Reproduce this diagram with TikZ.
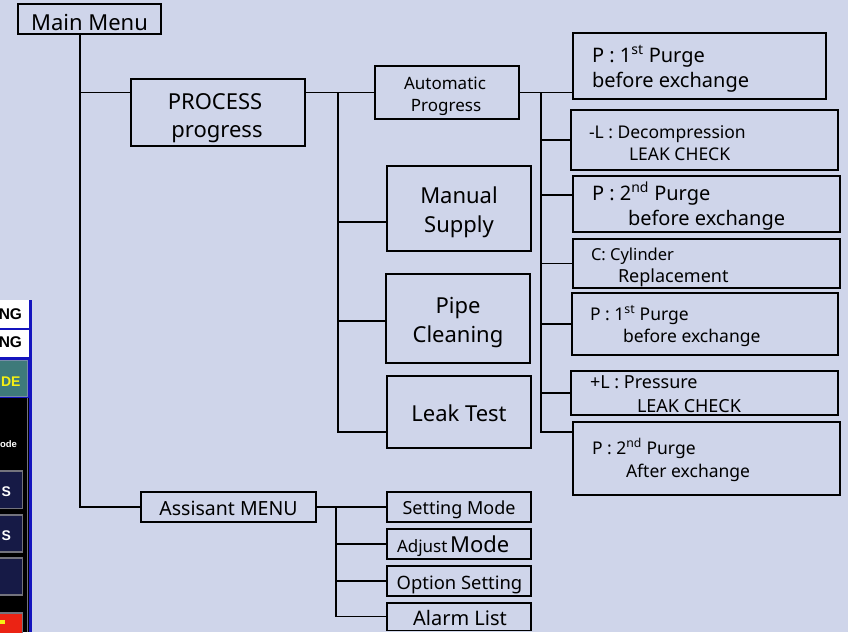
\documentclass[tikz,border=0pt]{standalone}
\usepackage{fontspec}
\setmainfont{Noto Sans}
\newfontfamily\panelfont{Liberation Sans}
\usetikzlibrary{calc}
\definecolor{bg}{RGB}{207,213,234}
\definecolor{panelblue}{RGB}{20,20,190}
\definecolor{panelteal}{RGB}{62,122,122}
\definecolor{tealedge}{RGB}{120,140,170}
\definecolor{btnfill}{RGB}{22,26,70}
\definecolor{btnedge}{RGB}{115,115,125}
\definecolor{btnred}{RGB}{235,35,20}
\definecolor{pyellow}{RGB}{245,240,20}
\newcommand{\fs}[2]{\fontsize{#1}{#2}\selectfont}
\begin{document}
\begin{tikzpicture}[x=1pt,y=-1pt,
  box/.style={draw=black, line width=1.4pt, rectangle, inner sep=0pt, outer sep=0pt, anchor=north west},
  conn/.style={draw=black, line width=1.4pt},
  tl/.style={inner sep=0pt, outer sep=0pt, anchor=base west, text=black},
  tc/.style={inner sep=0pt, outer sep=0pt, anchor=base, text=black},
  pt/.style={inner sep=0pt, outer sep=0pt, anchor=base east, font=\panelfont\bfseries}]
\useasboundingbox (0,0) rectangle (848,632);
\fill[bg] (0,0) rectangle (848,632);

% ---- partial screenshot panel at left edge ----
\begin{scope}
\clip (0,300) rectangle (33,632);
\fill[panelblue] (0,300) rectangle (32,632);
\fill[white] (0,300) rectangle (29,327.5);
\fill[white] (0,329.5) rectangle (29,357);
\fill[panelteal, draw=tealedge, line width=1pt] (-2,360) rectangle (27.5,396);
\fill[black] (0,398) rectangle (28.5,632);
\draw[btnedge, line width=1pt] (27.5,398) -- (27.5,632);
\fill[btnfill, draw=btnedge, line width=1.2pt] (-3,471) rectangle (22.5,508.5);
\fill[btnfill, draw=btnedge, line width=1.2pt] (-3,515) rectangle (22.5,552);
\fill[btnfill, draw=btnedge, line width=1.2pt] (-3,558) rectangle (22.5,595);
\fill[btnred, draw=btnedge, line width=1.2pt] (-3,613) rectangle (22.5,640);
\fill[pyellow] (0,620) rectangle (5,624);
\node[pt, font=\panelfont\bfseries\fs{15.5}{18}] (pg1) at (22,319) {NG};
\node[pt, font=\panelfont\bfseries\fs{15.5}{18}] (pg2) at (22,347) {NG};
\node[pt, font=\panelfont\bfseries\fs{14}{17}, text=pyellow] (pde) at (20.5,386) {DE};
\node[pt, font=\panelfont\bfseries\fs{9.5}{11}, text=white] (pode) at (17,447) {ode};
\node[pt, font=\panelfont\bfseries\fs{14}{17}, text=white] (ps1) at (11,496) {S};
\node[pt, font=\panelfont\bfseries\fs{14}{17}, text=white] (ps2) at (11,540) {S};
\end{scope}

% ---- boxes ----
\node[box, minimum width=143pt, minimum height=30pt] (mm) at (18,4) {};
\node[box, minimum width=174pt, minimum height=67pt] (proc) at (131,79) {};
\node[box, minimum width=144pt, minimum height=53pt] (auto) at (375,66) {};
\node[box, minimum width=144pt, minimum height=85pt] (manual) at (387,166) {};
\node[box, minimum width=144pt, minimum height=89pt] (pipe) at (386,274) {};
\node[box, minimum width=144pt, minimum height=72pt] (leak) at (387,376) {};
\node[box, minimum width=253pt, minimum height=66pt] (p1) at (573,33) {};
\node[box, minimum width=267pt, minimum height=60pt] (dl) at (571,110) {};
\node[box, minimum width=267pt, minimum height=56pt] (p2) at (573,176) {};
\node[box, minimum width=267pt, minimum height=49pt] (cyl) at (573,239) {};
\node[box, minimum width=266pt, minimum height=62pt] (p1b) at (572,293) {};
\node[box, minimum width=267pt, minimum height=44pt] (pl) at (571,371) {};
\node[box, minimum width=267pt, minimum height=73pt] (p2b) at (573,422) {};
\node[box, minimum width=175pt, minimum height=30pt] (asst) at (141,492) {};
\node[box, minimum width=144pt, minimum height=30pt] (set) at (387,492) {};
\node[box, minimum width=144pt, minimum height=30pt] (adj) at (387,529) {};
\node[box, minimum width=144pt, minimum height=30pt] (opt) at (387,566) {};
\node[box, minimum width=144pt, minimum height=27.5pt] (alarm) at (387,603) {};

% ---- connectors ----
\coordinate (t0) at ($(mm.south west)+(62,0)$);
\draw[conn] (t0) |- (asst.west);
\draw[conn] (t0 |- auto.west) -- (proc.west |- auto.west);
\draw[conn] (proc.east |- auto.west) -- (auto.west);
\coordinate (v1) at ($(proc.east |- auto.west)+(33,0)$);
\coordinate (mB) at ([yshift=-13.5pt]manual.west);
\coordinate (pB) at ([yshift=-2.5pt]pipe.west);
\coordinate (lB) at ([yshift=-20pt]leak.west);
\draw[conn] (v1) |- (lB);
\draw[conn] (v1 |- mB) -- (mB);
\draw[conn] (v1 |- pB) -- (pB);
\draw[conn] (auto.east) -- (p1.west |- auto.east);
\coordinate (v2) at ($(auto.east)+(22,0)$);
\coordinate (p2B) at ([yshift=9pt]p2.west);
\coordinate (p2bB) at ([yshift=-10pt]p2b.north west);
\draw[conn] (v2) |- (p2bB);
\draw[conn] (v2 |- dl.west) -- (dl.west);
\draw[conn] (v2 |- p2B) -- (p2B);
\draw[conn] (v2 |- cyl.west) -- (cyl.west);
\draw[conn] (v2 |- p1b.west) -- (p1b.west);
\draw[conn] (v2 |- pl.west) -- (pl.west);
\draw[conn] (asst.east) -- (set.west);
\coordinate (v3) at ($(asst.east)+(20,0)$);
\draw[conn] (v3) |- (alarm.west);
\draw[conn] (v3 |- adj.west) -- (adj.west);
\draw[conn] (v3 |- opt.west) -- (opt.west);

% ---- texts ----
\node[tc, font=\fs{22}{26}] (tmm) at (89.5,30) {Main Menu};
\node[tc, font=\fs{22}{26}] (tproc1) at (215,109) {PROCESS};
\node[tc, font=\fs{22}{26}] (tproc2) at (217,137) {progress};
\node[tc, font=\fs{17}{20}] (tauto1) at (445,89) {Automatic};
\node[tc, font=\fs{17}{20}] (tauto2) at (446,111) {Progress};
\node[tc, font=\fs{22}{26}] (tman1) at (459,203) {Manual};
\node[tc, font=\fs{22}{26}] (tman2) at (459,232) {Supply};
\node[tc, font=\fs{22}{26}] (tpipe1) at (458,313) {Pipe};
\node[tc, font=\fs{22}{26}] (tpipe2) at (458,342) {Cleaning};
\node[tc, font=\fs{22}{26}] (tleak) at (459,421) {Leak Test};

\node[tl, font=\fs{20}{24}] (tp1a) at (592,62) {P : 1\textsuperscript{st} Purge};
\node[tl, font=\fs{20}{24}] (tp1b) at (592,87) {before exchange};
\node[tl, font=\fs{17.5}{21}] (tdla) at (589,138) {-L : Decompression};
\node[tl, font=\fs{17.5}{21}] (tdlb) at (629,160) {LEAK CHECK};
\node[tl, font=\fs{20}{24}] (tp2a) at (592,200) {P : 2\textsuperscript{nd} Purge};
\node[tl, font=\fs{20}{24}] (tp2b) at (628,225) {before exchange};
\node[tl, font=\fs{16.5}{20}] (tcyla) at (591,260) {C: Cylinder};
\node[tl, font=\fs{18}{21}] (tcylb) at (618,282) {Replacement};
\node[tl, font=\fs{17.5}{21}] (tp1ba) at (590,320) {P : 1\textsuperscript{st} Purge};
\node[tl, font=\fs{17.5}{21}] (tp1bb) at (623,342) {before exchange};
\node[tl, font=\fs{18}{21}] (tpla) at (590,388) {+L : Pressure};
\node[tl, font=\fs{18}{21}] (tplb) at (637,412) {LEAK CHECK};
\node[tl, font=\fs{17.5}{21}] (tp2ba) at (592,454) {P : 2\textsuperscript{nd} Purge};
\node[tl, font=\fs{17.5}{21}] (tp2bb) at (626,477) {After exchange};

\node[tc, font=\fs{19.5}{23}] (tasst) at (228.5,515) {Assisant MENU};
\node[tc, font=\fs{18}{21}] (tset) at (459,514) {Setting Mode};
\node[tl] (tadj) at (397,552) {{\fs{17}{20}Adjust} {\fs{22}{26}Mode}};
\node[tc, font=\fs{18.4}{21}] (topt) at (459.5,589) {Option Setting};
\node[tc, font=\fs{20}{24}] (talarm) at (460,625) {Alarm List};
\end{tikzpicture}
\end{document}
